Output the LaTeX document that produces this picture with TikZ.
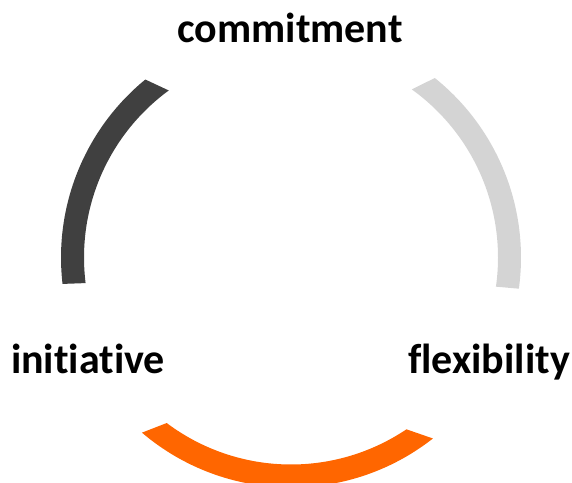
\documentclass[tikz,border=0pt]{standalone}
\usepackage{fontspec}
\setmainfont{Carlito}[Ligatures={NoCommon,NoRequired,NoContextual}]
\usepackage{xcolor}
\usepackage{tikz}

\definecolor{arcdark}{HTML}{404040}
\definecolor{arclight}{HTML}{D4D4D4}
\definecolor{arcorange}{HTML}{FF6600}

\tikzset{
  word/.style={anchor=base,inner sep=0pt,font=\bfseries\fontsize{42}{42}\selectfont}
}

\begin{document}
\begin{tikzpicture}[x=1pt,y=1pt]
    \useasboundingbox (0,0) rectangle (572,482);
    \coordinate (c) at (291,224.5);
    % outer radius 230, inner radius 207
    \fill[arcdark] ([shift={(129.3:230)}]c) arc[start angle=129.3,end angle=186.6,radius=230]
        -- ([shift={(187.1:207)}]c) arc[start angle=187.1,end angle=126.2,radius=207] -- cycle;
    \fill[arclight] ([shift={(51.3:230)}]c) arc[start angle=51.3,end angle=-7.8,radius=230]
        -- ([shift={(-8.1:207)}]c) arc[start angle=-8.1,end angle=54.3,radius=207] -- cycle;
    \fill[arcorange] ([shift={(229.6:230)}]c) arc[start angle=229.6,end angle=308.1,radius=230]
        -- ([shift={(303.9:207)}]c) arc[start angle=303.9,end angle=233.1,radius=207] -- cycle;
    \node[word] (commitment) at (290,439) {commitment};
    \node[word] (initiative) at (88,109) {initiative};
    \node[word] (flexibility) at (489,109) {flexibility};
\end{tikzpicture}
\end{document}
